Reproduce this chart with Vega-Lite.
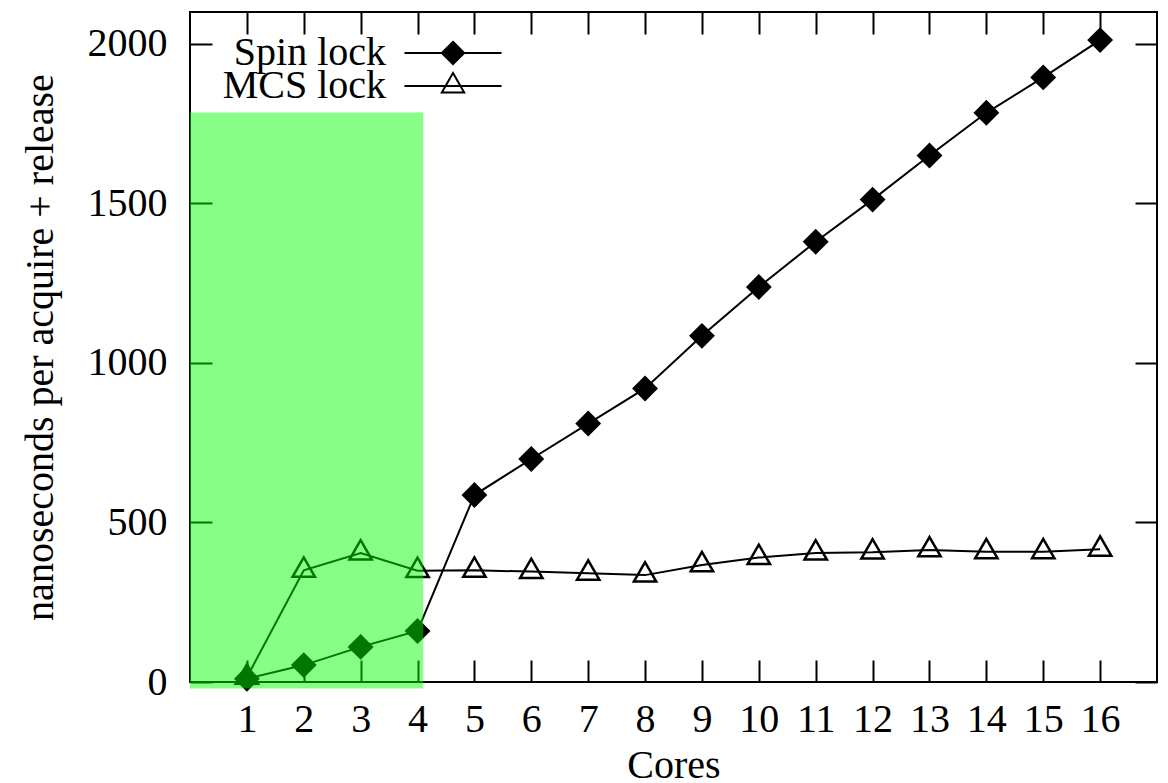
{
  "$schema": "https://vega.github.io/schema/vega-lite/v6.json",
  "width": 967,
  "height": 670,
  "autosize": "none",
  "padding": {"left": 190, "top": 12, "right": 11, "bottom": 101},
  "background": "white",
  "config": {
    "view": {"stroke": "black", "strokeWidth": 2},
    "font": "Liberation Serif",
    "legend": {
      "orient": "none", "title": null, "padding": 0,
      "labelFont": "Liberation Serif", "labelFontSize": 40, "labelColor": "black",
      "labelAlign": "right", "labelBaseline": "middle", "labelOffset": -87, "labelLimit": 0,
      "symbolSize": 500, "symbolOffset": 35, "symbolStrokeWidth": 2, "symbolStrokeColor": "black",
      "symbolOpacity": 1
    }
  },
  "datasets": {
    "locks": [
      {"cores": 1, "ns": 10, "series": "Spin lock"},
      {"cores": 2, "ns": 53, "series": "Spin lock"},
      {"cores": 3, "ns": 110, "series": "Spin lock"},
      {"cores": 4, "ns": 160, "series": "Spin lock"},
      {"cores": 5, "ns": 586, "series": "Spin lock"},
      {"cores": 6, "ns": 699, "series": "Spin lock"},
      {"cores": 7, "ns": 810, "series": "Spin lock"},
      {"cores": 8, "ns": 920, "series": "Spin lock"},
      {"cores": 9, "ns": 1085, "series": "Spin lock"},
      {"cores": 10, "ns": 1238, "series": "Spin lock"},
      {"cores": 11, "ns": 1380, "series": "Spin lock"},
      {"cores": 12, "ns": 1512, "series": "Spin lock"},
      {"cores": 13, "ns": 1650, "series": "Spin lock"},
      {"cores": 14, "ns": 1784, "series": "Spin lock"},
      {"cores": 15, "ns": 1895, "series": "Spin lock"},
      {"cores": 16, "ns": 2012, "series": "Spin lock"},
      {"cores": 1, "ns": 15, "series": "MCS lock"},
      {"cores": 2, "ns": 350, "series": "MCS lock"},
      {"cores": 3, "ns": 404, "series": "MCS lock"},
      {"cores": 4, "ns": 349, "series": "MCS lock"},
      {"cores": 5, "ns": 350, "series": "MCS lock"},
      {"cores": 6, "ns": 346, "series": "MCS lock"},
      {"cores": 7, "ns": 341, "series": "MCS lock"},
      {"cores": 8, "ns": 335, "series": "MCS lock"},
      {"cores": 9, "ns": 367, "series": "MCS lock"},
      {"cores": 10, "ns": 390, "series": "MCS lock"},
      {"cores": 11, "ns": 404, "series": "MCS lock"},
      {"cores": 12, "ns": 407, "series": "MCS lock"},
      {"cores": 13, "ns": 414, "series": "MCS lock"},
      {"cores": 14, "ns": 408, "series": "MCS lock"},
      {"cores": 15, "ns": 408, "series": "MCS lock"},
      {"cores": 16, "ns": 416, "series": "MCS lock"}
    ],
    "highlight": [
      {"x0": 0, "x1": 4.1, "y0": -20, "y1": 1785}
    ]
  },
  "resolve": {
    "axis": {"x": "independent", "y": "independent"},
    "scale": {"fill": "independent"},
    "legend": {"fill": "independent"}
  },
  "layer": [
    {
      "data": {"name": "locks"},
      "mark": {"type": "line", "color": "black", "strokeWidth": 2},
      "encoding": {
        "x": {
          "field": "cores", "type": "quantitative",
          "scale": {"domain": [0, 17], "nice": false, "zero": false},
          "axis": {
            "orient": "bottom",
            "values": [1, 2, 3, 4, 5, 6, 7, 8, 9, 10, 11, 12, 13, 14, 15, 16],
            "tickSize": -22, "tickColor": "black", "tickWidth": 2,
            "domain": false, "grid": false,
            "labelFont": "Liberation Serif", "labelFontSize": 40, "labelColor": "black",
            "labelBaseline": "alphabetic", "labelPadding": 71,
            "title": "Cores",
            "titleFont": "Liberation Serif", "titleFontSize": 40, "titleFontWeight": "normal",
            "titleColor": "black", "titleBaseline": "alphabetic", "titleY": 95
          }
        },
        "y": {
          "field": "ns", "type": "quantitative",
          "scale": {"domain": [0, 2100], "nice": false, "zero": false},
          "axis": {
            "orient": "left",
            "values": [0, 500, 1000, 1500, 2000],
            "format": "d",
            "tickSize": -22, "tickColor": "black", "tickWidth": 2,
            "domain": false, "grid": false,
            "labelFont": "Liberation Serif", "labelFontSize": 40, "labelColor": "black",
            "labelBaseline": "middle", "labelPadding": 45,
            "title": "nanoseconds per acquire + release",
            "titleFont": "Liberation Serif", "titleFontSize": 40, "titleFontWeight": "normal",
            "titleColor": "black", "titleAngle": 270, "titleBaseline": "alphabetic",
            "titleAlign": "center", "titleX": -138, "titleY": 335
          }
        },
        "detail": {"field": "series"}
      }
    },
    {
      "data": {"name": "locks"},
      "transform": [{"filter": "datum.series === 'Spin lock'"}],
      "mark": {"type": "point", "shape": "diamond", "filled": true, "size": 500, "stroke": "black", "strokeWidth": 2.5, "opacity": 1},
      "encoding": {
        "x": {
          "field": "cores", "type": "quantitative",
          "scale": {"domain": [0, 17], "nice": false, "zero": false},
          "axis": {
            "orient": "top",
            "values": [1, 2, 3, 4, 5, 6, 7, 8, 9, 10, 11, 12, 13, 14, 15, 16],
            "tickSize": -22, "tickColor": "black", "tickWidth": 2,
            "domain": false, "grid": false, "labels": false, "title": null
          }
        },
        "y": {
          "field": "ns", "type": "quantitative",
          "scale": {"domain": [0, 2100], "nice": false, "zero": false},
          "axis": {
            "orient": "right",
            "values": [0, 500, 1000, 1500, 2000],
            "tickSize": -22, "tickColor": "black", "tickWidth": 2,
            "domain": false, "grid": false, "labels": false, "title": null
          }
        },
        "fill": {
          "field": "series", "type": "nominal",
          "scale": {"domain": ["Spin lock"], "range": ["black"]},
          "legend": {
            "legendX": 208, "legendY": 21,
            "symbolType": "M-4.34,0H4.34M0,-1L1,0L0,1L-1,0Z"
          }
        }
      }
    },
    {
      "data": {"name": "locks"},
      "transform": [{"filter": "datum.series === 'MCS lock'"}],
      "mark": {"type": "point", "shape": "M0,-1.155L-1,0.577L1,0.577Z", "filled": true, "size": 500, "stroke": "black", "strokeWidth": 2.5, "opacity": 1},
      "encoding": {
        "x": {
          "field": "cores", "type": "quantitative",
          "scale": {"domain": [0, 17], "nice": false, "zero": false},
          "axis": null
        },
        "y": {
          "field": "ns", "type": "quantitative",
          "scale": {"domain": [0, 2100], "nice": false, "zero": false},
          "axis": null
        },
        "fill": {
          "field": "series", "type": "nominal",
          "scale": {"domain": ["MCS lock"], "range": ["transparent"]},
          "legend": {
            "legendX": 208, "legendY": 54,
            "symbolType": "M-4.34,0H4.34M0,-1.155L-1,0.577L1,0.577Z"
          }
        }
      }
    },
    {
      "data": {"name": "highlight"},
      "mark": {"type": "rect", "fill": "#00ff00", "opacity": 0.47, "clip": false},
      "encoding": {
        "x": {"field": "x0", "type": "quantitative", "scale": {"domain": [0, 17], "nice": false, "zero": false}, "axis": null},
        "x2": {"field": "x1"},
        "y": {"field": "y0", "type": "quantitative", "scale": {"domain": [0, 2100], "nice": false, "zero": false}, "axis": null},
        "y2": {"field": "y1"}
      }
    }
  ]
}
